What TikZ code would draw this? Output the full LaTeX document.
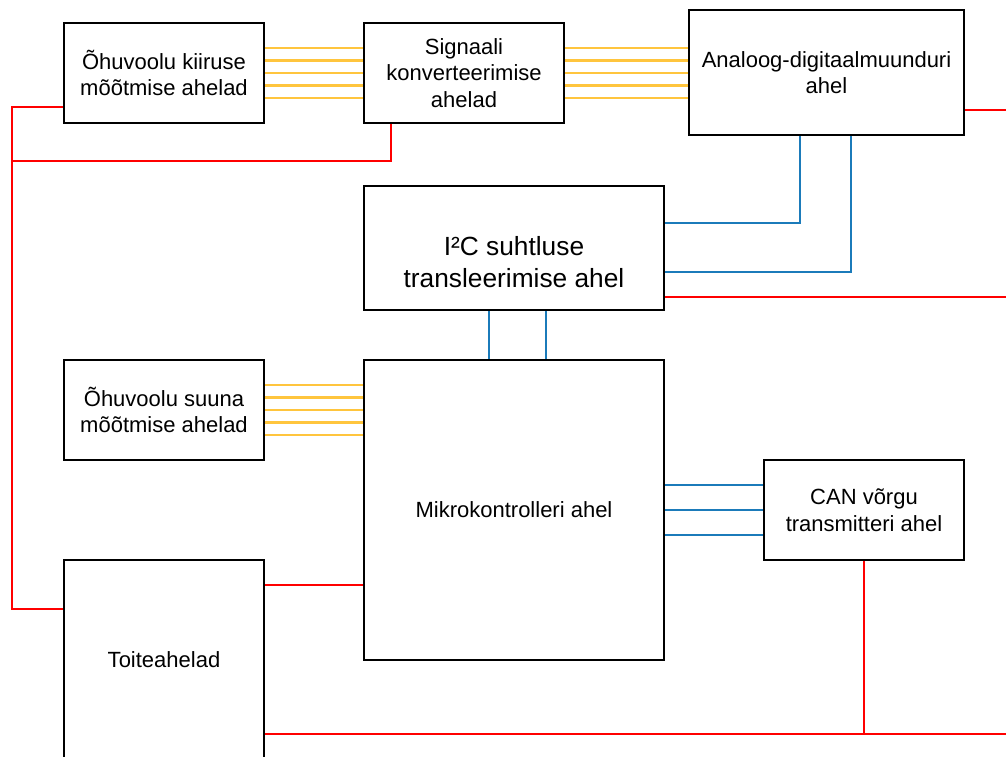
\documentclass[tikz,border=0pt]{standalone}
\usepackage{fontspec}
\setmainfont{Liberation Sans}
\definecolor{sigyellow}{HTML}{FFC53D}
\definecolor{sigblue}{HTML}{1B7BBA}
\begin{document}
\begin{tikzpicture}[x=1pt, y=-1pt,
  blokk/.style={draw, line width=2.4pt, align=center, inner sep=0pt,
    font=\fontsize{22}{26.5}\selectfont},
  kollane/.style={draw=sigyellow, line width=2.6pt},
  sinine/.style={draw=sigblue, line width=2.4pt},
  punane/.style={draw=red, line width=2.4pt}]
\useasboundingbox (0,0) rectangle (1006,756);
\coordinate (parem) at (1006,0);
% plokid
\node[blokk, minimum width=200pt, minimum height=100pt] (kiirus) at (164,73) {Õhuvoolu kiiruse\\mõõtmise ahelad};
\node[blokk, minimum width=200pt, minimum height=100pt] (konv) at (464,73) {Signaali\\konverteerimise\\ahelad};
\node[blokk, minimum width=275pt, minimum height=125pt] (adc) at (826.5,72.5) {Analoog-digitaalmuunduri\\ahel};
\node[blokk, minimum width=300pt, minimum height=124pt,
  label={[align=center, font=\fontsize{26.3}{32}\selectfont, yshift=-14pt]center:I²C suhtluse\\transleerimise ahel}] (i2c) at (514,248) {};
\node[blokk, minimum width=200pt, minimum height=100pt] (suund) at (164,410) {Õhuvoolu suuna\\mõõtmise ahelad};
\node[blokk, minimum width=300pt, minimum height=300pt] (mcu) at (514,510) {Mikrokontrolleri ahel};
\node[blokk, minimum width=200pt, minimum height=100pt] (can) at (864,510) {CAN võrgu\\transmitteri ahel};
\node[blokk, minimum width=200pt, minimum height=200pt] (toide) at (164,660) {Toiteahelad};
% signaalid
\foreach \dy in {-25,-12.5,0,12.5,25} {
  \draw[kollane] ([yshift=\dy pt]kiirus.east) -- ([yshift=\dy pt]konv.west);
  \path ([yshift=\dy pt]konv.east) coordinate (k);
  \draw[kollane] (k) -- (k -| adc.west);
  \draw[kollane] ([yshift=\dy pt]suund.east) -- ([yshift=\dy pt]suund.east -| mcu.west);
}
\foreach \dy in {-25,0,25}
  \draw[sinine] ([yshift=\dy pt]mcu.east |- can.west) -- ([yshift=\dy pt]can.west);
\draw[sinine] ([xshift=-26.5pt]adc.south) |- ([yshift=25pt]i2c.east);
\draw[sinine] ([xshift=24.5pt]adc.south) |- ([yshift=-24pt]i2c.east);
\draw[sinine] ([xshift=-25pt]i2c.south) -- ([xshift=-25pt]mcu.north);
\draw[sinine] ([xshift=32pt]i2c.south) -- ([xshift=32pt]mcu.north);
% toide
\draw[punane] ([yshift=-34pt]kiirus.west) -- ++(-51,0) |- ([yshift=51pt]toide.west);
\draw[punane] ([xshift=-73pt]konv.south) -- ++(0,37) -- ++(-378,0);
\path ([yshift=-37.5pt]adc.east) coordinate (a1);
\draw[punane] (a1) -- (a1 -| parem);
\path ([yshift=-49pt]i2c.east) coordinate (a2);
\draw[punane] (a2) -- (a2 -| parem);
\draw[punane] ([yshift=-75pt]mcu.west) -- ([yshift=-75pt]mcu.west -| toide.east);
\path ([yshift=-74pt]toide.east) coordinate (a3);
\draw[punane] (a3) -- (a3 -| parem);
\draw[punane] (can.south) -- (can.south |- a3);
\end{tikzpicture}
\end{document}
